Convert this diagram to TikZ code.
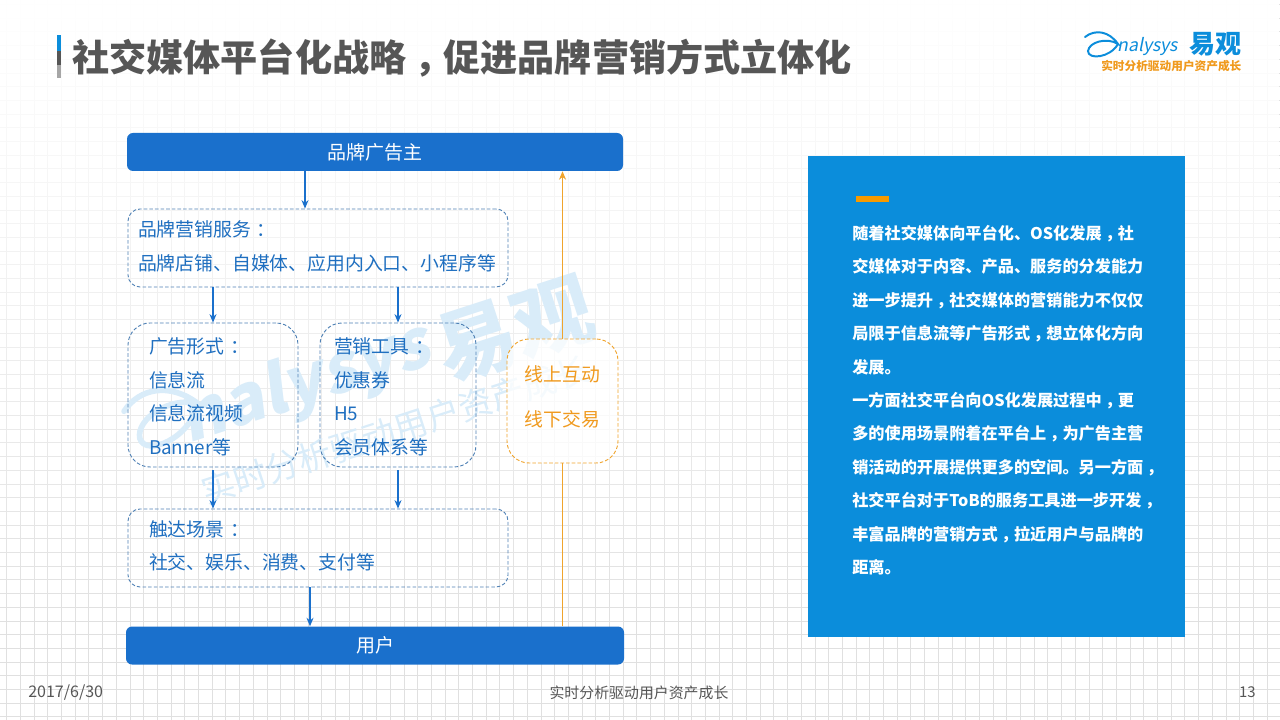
\documentclass[tikz,border=0pt]{standalone}
\usepackage{fontspec}
\setmainfont{Noto Sans CJK SC}
\usetikzlibrary{arrows.meta,fadings}
\definecolor{barblue}{HTML}{1A70CC}
\definecolor{panelblue}{HTML}{0B8DDB}
\definecolor{textblue}{HTML}{1F6FC0}
\definecolor{dashblue}{HTML}{4F81B5}
\definecolor{lineorange}{HTML}{F0A42C}
\definecolor{textorange}{HTML}{F09A1E}
\definecolor{dashorange}{HTML}{F79A00}
\definecolor{titlegray}{HTML}{565656}
\definecolor{markblue}{HTML}{D9ECF9}
\newcommand{\px}{*0.025cm}
\newcommand{\cm}{\hspace{.22em}，\hspace{-.22em}}
\newcommand{\cl}{\hspace{.3em}：\hspace{-.3em}}
\tikzset{
    barbox/.style={rounded corners=6\px, fill=barblue, text=white, minimum height=38\px, inner sep=0pt, font=\fontsize{13.5}{16}\selectfont},
    dashbox/.style={rounded corners=#1\px, draw=dashblue, line width=0.65pt, dash pattern=on 2.5pt off 1.5pt, text=textblue, align=left, inner ysep=0pt, font=\fontsize{13.4}{24}\selectfont},
    bluearrow/.style={draw=barblue, line width=0.8pt, -{Stealth[length=6pt,width=5pt]}},
    orangeline/.style={draw=lineorange, line width=0.8pt},
    pagetext/.style={text=titlegray, inner sep=0pt, font=\fontsize{10.6}{12}\selectfont},
    marktext/.style={text=markblue, inner sep=0pt, rotate=18},
    swoosh/.pic={
        \draw[line width=#1, line cap=round] (0,3) .. controls (10,-5) and (24,-3) .. (33,10)
            .. controls (22,3) and (4,8) .. (3,17) .. controls (3,26) and (25,24) .. (33,10);
    }
}
\begin{document}
\begin{tikzpicture}[x=0.025cm,y=-0.025cm]
    \useasboundingbox (0,0) rectangle (1280,720);
    % Background grid
    \foreach \x in {6.7,20.4,...,1280} {
        \draw[draw=black!12, line width=0.7pt] (\x,0) -- (\x,720);
    }
    \foreach \y in {4.5,18.2,...,720} {
        \draw[draw=black!12, line width=0.7pt] (0,\y) -- (1280,\y);
    }
    \fill[white, path fading=south] (0,0) rectangle (1280,640);

    % Watermark
    \pic[markblue, scale=2.2, rotate=18] at (122,405) {swoosh={4pt}};
    \node[marktext, font=\fontsize{48}{60}\selectfont\bfseries] (marklatin) at (305,385) {\addfontfeature{FakeSlant=0.2}nalysys};
    \node[marktext, font=\fontsize{57}{60}\selectfont\bfseries] (markzh) at (515,330) {易观};
    \node[marktext, font=\fontsize{24}{28}\selectfont] (markline) at (395,430) {实时分析驱动用户资产成长};

    % Title
    \fill[panelblue] (57,35) rectangle (61,51);
    \fill[titlegray] (57,51) rectangle (61,65);
    \fill[black!35] (57,65) rectangle (61,78);
    \node[anchor=west, inner sep=0pt, text=titlegray, font=\fontsize{26.4}{30}\selectfont\bfseries] (title) at (72,58) {社交媒体平台化战略\cm 促进品牌营销方式立体化};

    % Logo
    \pic[panelblue] at (1085,34) {swoosh={1.4pt}};
    \node[anchor=west, inner sep=0pt, text=panelblue, font=\fontsize{12.6}{16}\selectfont] (loglatin) at (1117,47) {\addfontfeature{FakeSlant=0.2}nalysys};
    \node[anchor=west, inner sep=0pt, text=panelblue, font=\fontsize{18.5}{20}\selectfont\bfseries] (logzh) at (1189,44) {易观};
    \node[anchor=west, inner sep=0pt, text=textorange, font=\fontsize{8.3}{10}\selectfont\bfseries] (logline) at (1101,66) {实时分析驱动用户资产成长};

    % Flow boxes
    \node[barbox, minimum width=496\px] (brand) at (375,152) {品牌广告主};
    \node[dashbox=12, text width=360\px, inner xsep=10\px, minimum height=78\px] (service) at (318,248) {品牌营销服务\cl\\品牌店铺、自媒体、应用内入口、小程序等\\[-20pt]\mbox{}};
    \node[dashbox=22, text width=128\px, inner xsep=21\px, minimum height=144\px] (format) at (213,395) {\mbox{}\\[-10pt]广告形式\cl\\信息流\\信息流视频\\Banner等};
    \node[dashbox=22, text width=128\px, inner xsep=14\px, minimum height=144\px] (tool) at (398,395) {\mbox{}\\[-10pt]营销工具\cl\\优惠券\\H5\\会员体系等};
    \node[dashbox=12, text width=338\px, inner xsep=21\px, minimum height=78\px] (touch) at (318,548) {触达场景\cl\\社交、娱乐、消费、支付等\\[-20pt]\mbox{}};
    \node[dashbox=22, draw=lineorange, text=textorange, fill=white, fill opacity=0.75, text opacity=1, text width=111\px, inner xsep=0pt, align=center, minimum height=124\px] (online) at (562.5,401) {线上互动\\[7.5pt]线下交易\\[-17pt]\mbox{}};
    \node[barbox, minimum width=498\px] (user) at (375,645.5) {用户};

    % Arrows
    \draw[bluearrow] ([xshift=-70\px]brand.south) -- ([xshift=-70\px]brand.south |- service.north);
    \draw[bluearrow] (service.south -| format.north) -- (format.north);
    \draw[bluearrow] (service.south -| tool.north) -- (tool.north);
    \draw[bluearrow] ([yshift=-3\px]format.south) -- (touch.north -| format.south);
    \draw[bluearrow] ([yshift=-3\px]tool.south) -- (touch.north -| tool.south);
    \draw[bluearrow] ([xshift=-8\px]touch.south) -- ([xshift=-8\px]touch.south |- user.north);
    \draw[orangeline] (user.north -| online.south) -- (online.south);
    \draw[orangeline, -{Stealth[length=6pt,width=5pt]}] (online.north) -- (online.north |- brand.south);

    % Text panel
    \node[anchor=north west, fill=panelblue, minimum width=377\px, minimum height=481\px, inner sep=0pt] (panel) at (808,156) {};
    \fill[dashorange] (856,196) rectangle (889,202);
    \node[anchor=north west, inner sep=0pt, text=white, align=left, font=\fontsize{11.5}{23.75}\selectfont\bfseries] (paneltext) at (852,225) {随着社交媒体向平台化、OS化发展\cm 社\\交媒体对于内容、产品、服务的分发能力\\进一步提升\cm 社交媒体的营销能力不仅仅\\局限于信息流等广告形式\cm 想立体化方向\\发展。\\一方面社交平台向OS化发展过程中\cm 更\\多的使用场景附着在平台上\cm 为广告主营\\销活动的开展提供更多的空间。另一方面\cm\\社交平台对于ToB的服务工具进一步开发\cm\\丰富品牌的营销方式\cm 拉近用户与品牌的\\距离。};

    % Footer
    \node[pagetext, anchor=west, font=\fontsize{11.4}{12}\selectfont] (date) at (28,693) {2017/6/30};
    \node[pagetext] (slogan) at (639,693) {实时分析驱动用户资产成长};
    \node[pagetext, anchor=east] (pageno) at (1256,692) {13};
\end{tikzpicture}
\end{document}
